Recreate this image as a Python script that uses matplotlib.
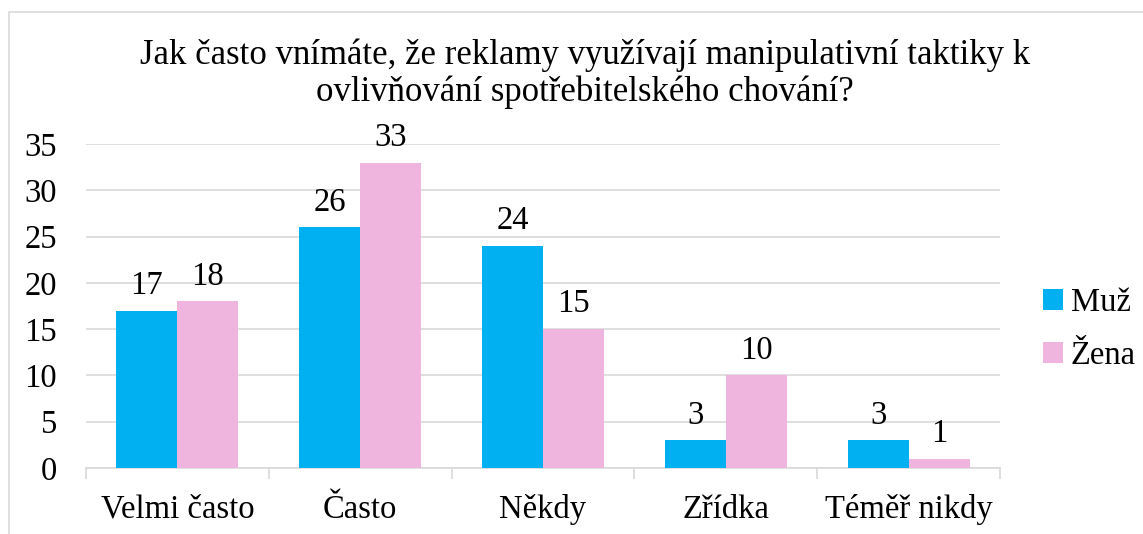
import matplotlib.pyplot as plt
import matplotlib.patches as mpatches
import numpy as np

plt.rcParams['font.family'] = ['Liberation Serif', 'DejaVu Serif']

categories = ['Velmi často', 'Často', 'Někdy', 'Zřídka', 'Téměř nikdy']
muz = [17, 26, 24, 3, 3]
zena = [18, 33, 15, 10, 1]
series_names = ['Muž', 'Žena']
colors = ['#00B0F0', '#F0B5DF']
grid_color = '#D9D9D9'

fig = plt.figure(figsize=(11.43, 5.34), dpi=100)
ax = fig.add_axes([0.0752, 0.1236, 0.7998, 0.6067])

x = np.arange(len(categories))
w = 0.333
b1 = ax.bar(x - w / 2, muz, w, color=colors[0], label=series_names[0], zorder=3)
b2 = ax.bar(x + w / 2, zena, w, color=colors[1], label=series_names[1], zorder=3)

for bars, vals in ((b1, muz), (b2, zena)):
    for rect, v in zip(bars, vals):
        ax.annotate(str(v), (rect.get_x() + rect.get_width() / 2, v),
                    xytext=(0, 7), textcoords='offset points',
                    ha='center', va='bottom', fontsize=23.5)

ax.set_xlim(-0.5, len(categories) - 0.5)
ax.set_ylim(0, 35)
ax.set_yticks(range(0, 36, 5))
ax.yaxis.grid(True, color=grid_color, linewidth=1.2, zorder=0)
ax.tick_params(axis='y', length=0, labelsize=23.5, pad=21)

ax.set_xticks(x)
ax.set_xticklabels(categories, fontsize=23.5)
ax.tick_params(axis='x', length=0, pad=19)
ax.set_xticks(np.arange(-0.5, len(categories)), minor=True)
ax.tick_params(axis='x', which='minor', length=8, color=grid_color, width=1.2)

for s in ['top', 'right', 'left']:
    ax.spines[s].set_visible(False)
ax.spines['bottom'].set_color(grid_color)
ax.spines['bottom'].set_linewidth(1.2)

fig.text(0.512, 0.862, 'Jak často vnímáte, že reklamy využívají manipulativní taktiky k\n'
         'ovlivňování spotřebitelského chování?',
         ha='center', va='center', fontsize=25, linespacing=1.15)

ax.legend(loc='center left', bbox_to_anchor=(1.015, 0.428), frameon=False,
          fontsize=23.5, handlelength=0.6, handleheight=0.6, handletextpad=0.25,
          labelspacing=0.7)

fig.patches.append(mpatches.Rectangle((9 / 1143, -0.1), 1.2, 1 - 12 / 534 + 0.1,
                                      transform=fig.transFigure, fill=False,
                                      edgecolor='#D9D9D9', linewidth=1.2))

fig.savefig('out.png', dpi=100)
